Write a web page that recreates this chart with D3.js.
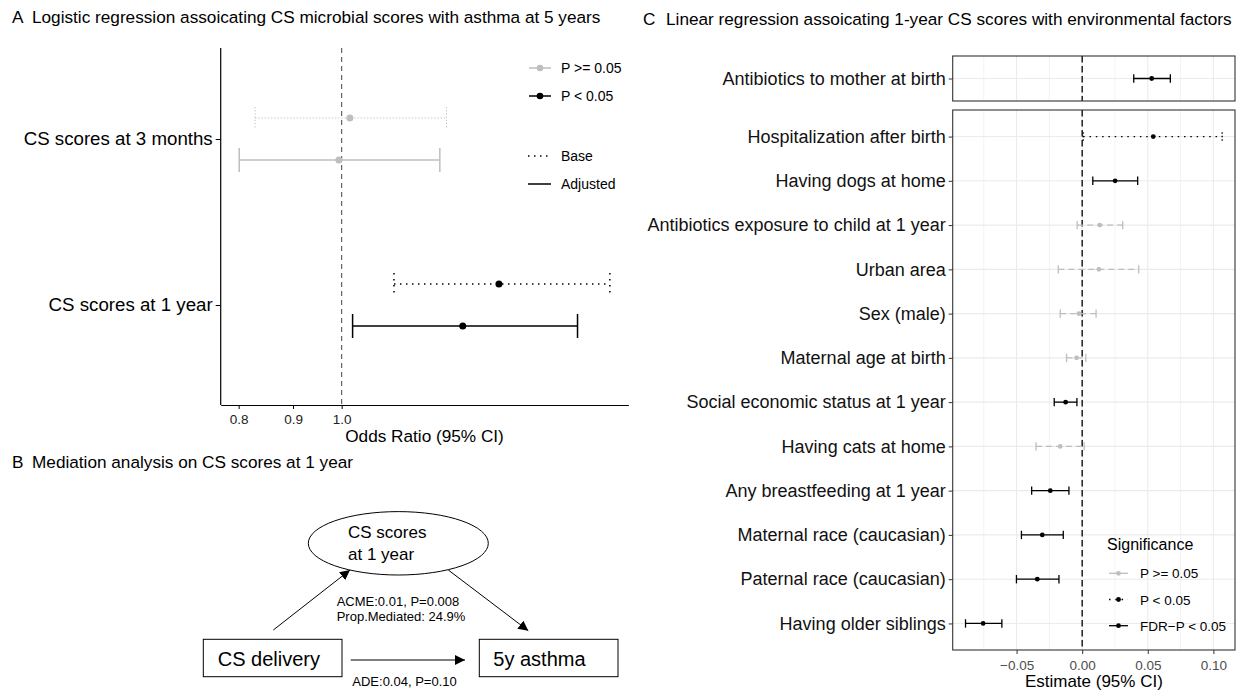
<!DOCTYPE html>
<html><head><meta charset="utf-8">
<script src="https://cdn.jsdelivr.net/npm/d3@7"></script>
<style>
body{margin:0;background:#fff;}
svg{display:block;font-family:"Liberation Sans",Arial,Helvetica,sans-serif;}
</style></head>
<body><svg id="c" width="1242" height="692"></svg>
<script>
// ---------- Panel A data ----------
const aCats = ["CS scores at 3 months", "CS scores at 1 year"];
const aBaseOR = [1.018, 1.406];
const aBaseLo = [0.829, 1.12];
const aBaseHi = [1.255, 1.788];
const aBaseSig = ["P >= 0.05", "P < 0.05"];
const aAdjOR = [0.994, 1.30];
const aAdjLo = [0.801, 1.024];
const aAdjHi = [1.237, 1.667];
const aAdjSig = ["P >= 0.05", "P < 0.05"];
const aTicks = [0.8, 0.9, 1.0];

// ---------- Panel C data ----------
const cTopCats = ["Antibiotics to mother at birth"];
const cTopEst = [0.053];
const cTopLo = [0.0393];
const cTopHi = [0.0672];
const cTopSig = ["FDR\u2212P < 0.05"];

const cCats = ["Hospitalization after birth", "Having dogs at home", "Antibiotics exposure to child at 1 year",
  "Urban area", "Sex (male)", "Maternal age at birth", "Social economic status at 1 year", "Having cats at home",
  "Any breastfeeding at 1 year", "Maternal race (caucasian)", "Paternal race (caucasian)", "Having older siblings"];
const cEst = [0.0542, 0.0251, 0.0134, 0.0127, -0.0025, -0.0043, -0.0126, -0.0167, -0.0243, -0.0304, -0.0342, -0.0755];
const cLo  = [0.0008, 0.0081, -0.0038, -0.0182, -0.0167, -0.0119, -0.0213, -0.0352, -0.0385, -0.0463, -0.0501, -0.0889];
const cHi  = [0.1067, 0.0423, 0.0309, 0.0431, 0.0106, 0.0028, -0.0040, 0.0015, -0.0101, -0.0144, -0.0177, -0.0612];
const cSig = ["P < 0.05", "FDR\u2212P < 0.05", "P >= 0.05", "P >= 0.05", "P >= 0.05", "P >= 0.05",
  "FDR\u2212P < 0.05", "P >= 0.05", "FDR\u2212P < 0.05", "FDR\u2212P < 0.05", "FDR\u2212P < 0.05", "FDR\u2212P < 0.05"];
const cTicks = [-0.05, 0, 0.05, 0.10];
const cMinor = [-0.075, -0.025, 0.025, 0.075];
const cSigLevels = ["P >= 0.05", "P < 0.05", "FDR\u2212P < 0.05"];

// ---------- Panel B (diagram) ----------
const bNodes = ["CS delivery", "5y asthma"];
const bMediator = ["CS scores", "at 1 year"];
const bIndirect = ["ACME:0.01, P=0.008", "Prop.Mediated: 24.9%"];
const bDirect = ["ADE:0.04, P=0.10"];

const titles = [
  {tag: "A", text: "Logistic regression assoicating CS microbial scores with asthma at 5 years", x: 12, tx: 32, y: 23},
  {tag: "B", text: "Mediation analysis on CS scores at 1 year", x: 12, tx: 32, y: 468},
  {tag: "C", text: "Linear regression assoicating 1-year CS scores with environmental factors", x: 643, tx: 666, y: 25}
];

const svg = d3.select("#c");
const GREY = "#BEBEBE";

// titles
titles.forEach(t => {
  svg.append("text").attr("x", t.x).attr("y", t.y).attr("font-size", 17.2).attr("fill", "#000").text(t.tag);
  svg.append("text").attr("x", t.tx).attr("y", t.y).attr("font-size", 17.2).attr("fill", "#000").text(t.text);
});

// =============== Panel A ===============
(function(){
  const L = 220.7, R = 628.4, T = 48, B = 405;
  const allLo = d3.min(aBaseLo.concat(aAdjLo)), allHi = d3.max(aBaseHi.concat(aAdjHi));
  const span = Math.log(allHi) - Math.log(allLo);
  const x = d3.scaleLog().domain([Math.exp(Math.log(allLo) - 0.05 * span), Math.exp(Math.log(allHi) + 0.05 * span)]).range([L, R]);
  const y = d3.scalePoint().domain(aCats).range([139, 305]);
  const g = svg.append("g");
  const dodge = 21;
  const col = s => s === "P < 0.05" ? "#000" : GREY;

  // reference line
  g.append("line").attr("x1", x(1)).attr("x2", x(1)).attr("y1", T).attr("y2", B)
    .attr("stroke", "#555").attr("stroke-width", 1.1).attr("stroke-dasharray", "5,4");

  const rows = [];
  aCats.forEach((c, i) => {
    rows.push({c, est: aBaseOR[i], lo: aBaseLo[i], hi: aBaseHi[i], sig: aBaseSig[i], type: "Base", off: -dodge});
    rows.push({c, est: aAdjOR[i], lo: aAdjLo[i], hi: aAdjHi[i], sig: aAdjSig[i], type: "Adjusted", off: dodge});
  });
  rows.forEach(r => {
    const yy = y(r.c) + r.off;
    const cl = col(r.sig);
    const dash = r.type === "Base" ? (r.sig === "P < 0.05" ? "1.5,4.5" : "1.2,2") : null;
    const w = r.type === "Base" && r.sig !== "P < 0.05" ? 1 : 1.5;
    const ch = r.type === "Base" ? 11 : 12;
    g.append("line").attr("x1", x(r.lo)).attr("x2", x(r.hi)).attr("y1", yy).attr("y2", yy)
      .attr("stroke", cl).attr("stroke-width", w).attr("stroke-dasharray", dash);
    [r.lo, r.hi].forEach(v => g.append("line").attr("x1", x(v)).attr("x2", x(v)).attr("y1", yy - ch).attr("y2", yy + ch)
      .attr("stroke", cl).attr("stroke-width", w).attr("stroke-dasharray", dash));
    g.append("circle").attr("cx", x(r.est)).attr("cy", yy).attr("r", 3.5).attr("fill", cl);
  });

  // axes
  const xa = g.append("g").attr("transform", `translate(0,${B})`)
    .call(d3.axisBottom(x).tickValues(aTicks).tickFormat(d3.format(".1f")).tickSize(4).tickSizeOuter(0));
  xa.select(".domain").attr("stroke", "#000").attr("stroke-width", 1.2);
  xa.selectAll(".tick line").attr("stroke", "#000").attr("stroke-width", 1);
  xa.selectAll(".tick text").attr("font-size", 13.5).attr("fill", "#222").attr("dy", "0.9em")
    .attr("font-family", "Liberation Sans, Arial, sans-serif");
  const ya = g.append("g").attr("transform", `translate(${L},0)`)
    .call(d3.axisLeft(y).tickSize(5).tickSizeOuter(0));
  ya.select(".domain").attr("d", `M0,${T}V${B}`).attr("stroke", "#000").attr("stroke-width", 1.2);
  ya.selectAll(".tick line").attr("stroke", "#000").attr("stroke-width", 1);
  ya.selectAll(".tick text").attr("font-size", 18.7).attr("fill", "#000").attr("x", -8)
    .attr("font-family", "Liberation Sans, Arial, sans-serif");
  g.append("text").attr("x", (L + R) / 2).attr("y", 442).attr("text-anchor", "middle")
    .attr("font-size", 17.2).text("Odds Ratio (95% CI)");

  // legends
  const lg = g.append("g");
  [["P >= 0.05", GREY, 68], ["P < 0.05", "#000", 96]].forEach(([t, c, yy]) => {
    lg.append("line").attr("x1", 529).attr("x2", 551).attr("y1", yy).attr("y2", yy).attr("stroke", c).attr("stroke-width", 1.5);
    lg.append("circle").attr("cx", 540).attr("cy", yy).attr("r", 3.3).attr("fill", c);
    lg.append("text").attr("x", 561).attr("y", yy + 5).attr("font-size", 14).text(t);
  });
  [["Base", "1.5,4.5", 156], ["Adjusted", null, 184]].forEach(([t, d, yy]) => {
    lg.append("line").attr("x1", 528).attr("x2", 551).attr("y1", yy).attr("y2", yy).attr("stroke", "#000")
      .attr("stroke-width", 1.5).attr("stroke-dasharray", d);
    lg.append("text").attr("x", 561).attr("y", yy + 5).attr("font-size", 14).text(t);
  });
})();

// =============== Panel C ===============
(function(){
  const L = 952.7, R = 1235;
  const allLo = d3.min(cLo.concat(cTopLo)), allHi = d3.max(cHi.concat(cTopHi));
  const pad = 0.05 * (allHi - allLo);
  const x = d3.scaleLinear().domain([allLo - pad, allHi + pad]).range([L, R]);
  const facets = [
    {cats: cTopCats, est: cTopEst, lo: cTopLo, hi: cTopHi, sig: cTopSig, T: 56, B: 101},
    {cats: cCats, est: cEst, lo: cLo, hi: cHi, sig: cSig, T: 110, B: 650}
  ];
  const style = {
    "P >= 0.05": {c: GREY, d: "6,4"},
    "P < 0.05": {c: "#000", d: "1.5,4.8"},
    "FDR\u2212P < 0.05": {c: "#000", d: null}
  };
  facets.forEach((f, fi) => {
    const g = svg.append("g");
    const y = d3.scalePoint().domain(f.cats).range([f.T, f.B]).padding(0.6);
    // grid
    cMinor.forEach(v => g.append("line").attr("x1", x(v)).attr("x2", x(v)).attr("y1", f.T).attr("y2", f.B)
      .attr("stroke", "#EBEBEB").attr("stroke-width", 0.6));
    cTicks.forEach(v => g.append("line").attr("x1", x(v)).attr("x2", x(v)).attr("y1", f.T).attr("y2", f.B)
      .attr("stroke", "#EBEBEB").attr("stroke-width", 1.1));
    f.cats.forEach(c => g.append("line").attr("x1", L).attr("x2", R).attr("y1", y(c)).attr("y2", y(c))
      .attr("stroke", "#EBEBEB").attr("stroke-width", 1.1));
    // zero line
    g.append("line").attr("x1", x(0)).attr("x2", x(0)).attr("y1", f.T).attr("y2", f.B)
      .attr("stroke", "#000").attr("stroke-width", 1.3).attr("stroke-dasharray", "6.5,3.5");
    // error bars
    f.cats.forEach((c, i) => {
      const s = style[f.sig[i]], yy = y(c);
      const w = 1.3;
      g.append("line").attr("x1", x(f.lo[i])).attr("x2", x(f.hi[i])).attr("y1", yy).attr("y2", yy)
        .attr("stroke", s.c).attr("stroke-width", w).attr("stroke-dasharray", s.d);
      [f.lo[i], f.hi[i]].forEach(v => g.append("line").attr("x1", x(v)).attr("x2", x(v)).attr("y1", yy - 4.2).attr("y2", yy + 4.2)
        .attr("stroke", s.c).attr("stroke-width", w).attr("stroke-dasharray", s.d === "6,4" ? null : (s.d ? "1.5,2" : null)));
      g.append("circle").attr("cx", x(f.est[i])).attr("cy", yy).attr("r", 2.4).attr("fill", s.c);
    });
    // border
    g.append("rect").attr("x", L).attr("y", f.T).attr("width", R - L).attr("height", f.B - f.T)
      .attr("fill", "none").attr("stroke", "#333").attr("stroke-width", 1.1);
    // y axis
    const ya = g.append("g").attr("transform", `translate(${L},0)`).call(d3.axisLeft(y).tickSize(4).tickSizeOuter(0));
    ya.select(".domain").remove();
    ya.selectAll(".tick line").attr("stroke", "#333").attr("stroke-width", 1);
    ya.selectAll(".tick text").attr("font-size", 18).attr("fill", "#111").attr("x", -7)
      .attr("font-family", "Liberation Sans, Arial, sans-serif");
    if (fi === 1) {
      const xa = g.append("g").attr("transform", `translate(0,${f.B})`)
        .call(d3.axisBottom(x).tickValues(cTicks).tickFormat(d3.format(".2f")).tickSize(4).tickSizeOuter(0));
      xa.select(".domain").remove();
      xa.selectAll(".tick line").attr("stroke", "#333").attr("stroke-width", 1);
      xa.selectAll(".tick text").attr("font-size", 13.5).attr("fill", "#4D4D4D").attr("dy", "0.95em")
        .attr("font-family", "Liberation Sans, Arial, sans-serif");
      g.append("text").attr("x", (L + R) / 2).attr("y", 687).attr("text-anchor", "middle")
        .attr("font-size", 17).text("Estimate (95% CI)");
    }
  });
  // legend
  const lg = svg.append("g");
  lg.append("text").attr("x", 1107).attr("y", 549.5).attr("font-size", 16).text("Significance");
  cSigLevels.forEach((t, i) => {
    const yy = 573.3 + i * 26.2, s = style[t];
    lg.append("line").attr("x1", 1109).attr("x2", 1128).attr("y1", yy).attr("y2", yy)
      .attr("stroke", s.c).attr("stroke-width", 1.3).attr("stroke-dasharray", s.d === "6,4" ? null : (s.d ? "1.5,4.8" : null));
    lg.append("circle").attr("cx", 1118.5).attr("cy", yy).attr("r", 2.4).attr("fill", s.c);
    lg.append("text").attr("x", 1140).attr("y", yy + 5).attr("font-size", 13.5).text(t);
  });
})();

// =============== Panel B ===============
(function(){
  const g = svg.append("g");
  const defs = svg.append("defs");
  defs.append("marker").attr("id", "ah").attr("viewBox", "0 0 10 10").attr("refX", 10).attr("refY", 5)
    .attr("markerWidth", 10).attr("markerHeight", 10).attr("markerUnits", "userSpaceOnUse").attr("orient", "auto")
    .append("path").attr("d", "M0,0L10,5L0,10Z").attr("fill", "#000");
  g.append("ellipse").attr("cx", 398.3).attr("cy", 543.3).attr("rx", 90).attr("ry", 31.7)
    .attr("fill", "#fff").attr("stroke", "#000").attr("stroke-width", 1);
  bMediator.forEach((t, i) => g.append("text").attr("x", 348).attr("y", 538 + i * 21.5).attr("font-size", 17).text(t));
  const boxes = [{x: 203.3, tx: 217.7}, {x: 479.3, tx: 493.3}];
  bNodes.forEach((t, i) => {
    g.append("rect").attr("x", boxes[i].x).attr("y", 639.3).attr("width", 138.7).attr("height", 37.4)
      .attr("fill", "#fff").attr("stroke", "#000").attr("stroke-width", 1);
    g.append("text").attr("x", boxes[i].tx).attr("y", 666).attr("font-size", 20).text(t);
  });
  const arrows = [[273.3, 630, 350, 570], [448.3, 570, 528.3, 630.7], [350.7, 660, 465, 660]];
  arrows.forEach(a => g.append("line").attr("x1", a[0]).attr("y1", a[1]).attr("x2", a[2]).attr("y2", a[3])
    .attr("stroke", "#000").attr("stroke-width", 1).attr("marker-end", "url(#ah)"));
  bIndirect.forEach((t, i) => g.append("text").attr("x", 336.7).attr("y", 605.5 + i * 15.5).attr("font-size", 13).text(t));
  g.append("text").attr("x", 352.3).attr("y", 685.5).attr("font-size", 13).text(bDirect[0]);
})();
</script></body></html>
